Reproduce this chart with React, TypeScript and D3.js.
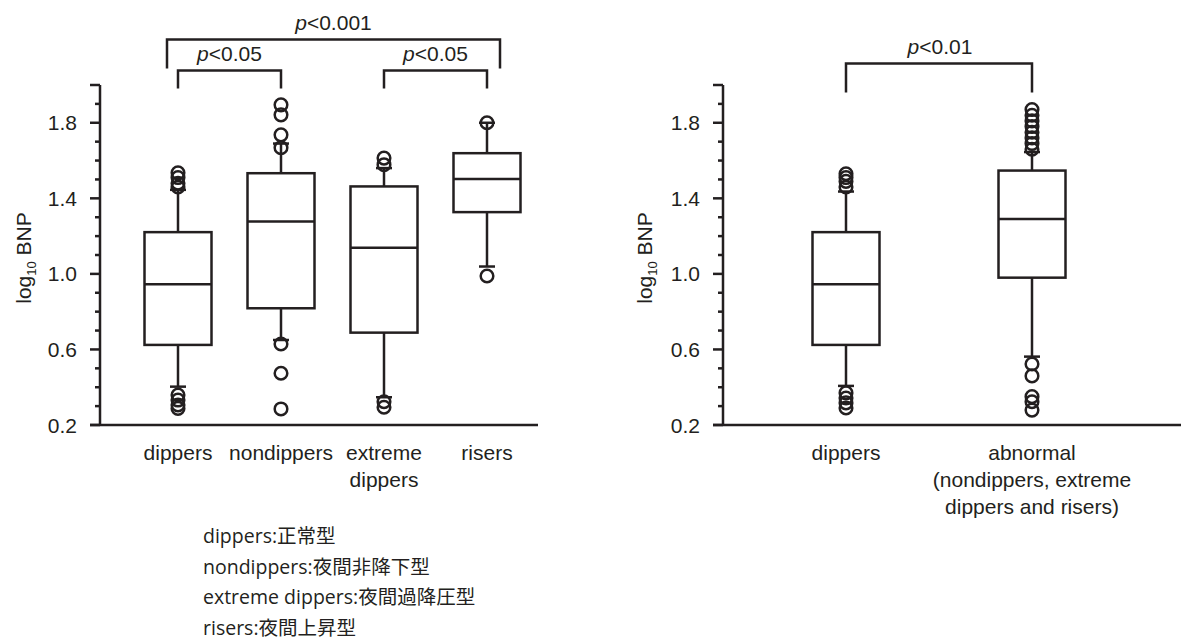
import React, { useEffect, useRef } from 'react';
import * as d3 from 'd3';

// left panel: four groups
const leftCategories = ['dippers', 'nondippers', 'extreme dippers', 'risers'];
const leftLabelLines = [['dippers'], ['nondippers'], ['extreme', 'dippers'], ['risers']];
const leftQ1 = [0.624, 0.818, 0.689, 1.327];
const leftMedian = [0.945, 1.277, 1.139, 1.502];
const leftQ3 = [1.221, 1.533, 1.463, 1.639];
const leftWhiskerLow = [0.403, 0.65, 0.347, 1.039];
const leftWhiskerHigh = [1.445, 1.69, 1.56, 1.8];
const leftOutliers = [
  [1.535, 1.51, 1.48, 1.46, 0.359, 0.332, 0.306, 0.288],
  [1.895, 1.842, 1.736, 1.668, 0.629, 0.474, 0.285],
  [1.613, 1.578, 0.323, 0.294],
  [1.8, 0.989],
];

// right panel: dippers vs abnormal
const rightCategories = ['dippers', 'abnormal'];
const rightLabelLines = [['dippers'], ['abnormal', '(nondippers, extreme', 'dippers and risers)']];
const rightQ1 = [0.624, 0.98];
const rightMedian = [0.945, 1.291];
const rightQ3 = [1.221, 1.547];
const rightWhiskerLow = [0.407, 0.562];
const rightWhiskerHigh = [1.436, 1.645];
const rightOutliers = [
  [1.53, 1.51, 1.49, 1.46, 0.37, 0.343, 0.317, 0.29],
  [1.87, 1.84, 1.81, 1.78, 1.75, 1.72, 1.69, 1.66, 0.523, 0.46, 0.35, 0.323, 0.279],
];

// y axis ticks
const majorTicks = [0.2, 0.6, 1.0, 1.4, 1.8, 2.0];
const tickLabels = [0.2, 0.6, 1.0, 1.4, 1.8];
const minorTicks = [0.3, 0.4, 0.5, 0.7, 0.8, 0.9, 1.1, 1.2, 1.3, 1.5, 1.6, 1.7, 1.9];

// significance brackets
const leftBrackets = [
  { from: 'dippers', to: 'nondippers', label: '<0.05', level: 1 },
  { from: 'extreme dippers', to: 'risers', label: '<0.05', level: 1 },
  { from: 'dippers', to: 'risers', label: '<0.001', level: 0 },
];
const rightBrackets = [{ from: 'dippers', to: 'abnormal', label: '<0.01', level: 0 }];

const footnotes = [
  'dippers:正常型',
  'nondippers:夜間非降下型',
  'extreme dippers:夜間過降圧型',
  'risers:夜間上昇型',
];

const INK = '#231f20';
const FONT = '"Liberation Sans", Arial, Helvetica, sans-serif';

const App = () => {
  const ref = useRef<SVGSVGElement>(null);

  useEffect(() => {
    if (!ref.current) return;
    const svg = d3.select(ref.current);
    svg.selectAll('*').remove();

    const y = d3.scaleLinear().domain([0.2, 2.0]).range([425, 85]);

    const drawPanel = (opts: any) => {
      const { axisX, axisEnd, x, cats, labels, q1, med, q3, wl, wh, outs, brackets, ylabelX } = opts;
      const g = svg.append('g');
      const boxW = 67;

      // y axis
      g.append('line').attr('x1', axisX).attr('x2', axisX).attr('y1', y(2.0)).attr('y2', y(0.2))
        .attr('stroke', INK).attr('stroke-width', 2.5);
      g.selectAll('.maj').data(majorTicks).enter().append('line')
        .attr('x1', axisX - 10).attr('x2', axisX).attr('y1', d => y(d)).attr('y2', d => y(d))
        .attr('stroke', INK).attr('stroke-width', 2.5);
      g.selectAll('.min').data(minorTicks).enter().append('line')
        .attr('x1', axisX - 5).attr('x2', axisX).attr('y1', d => y(d)).attr('y2', d => y(d))
        .attr('stroke', INK).attr('stroke-width', 2.5);
      g.selectAll('.tl').data(tickLabels).enter().append('text')
        .attr('x', axisX - 23).attr('y', d => y(d)).attr('dy', '0.36em')
        .attr('text-anchor', 'end').attr('font-size', 21).attr('font-family', FONT).attr('fill', INK)
        .text(d => d3.format('.1f')(d));

      // x axis
      g.append('line').attr('x1', axisX - 10).attr('x2', axisEnd).attr('y1', y(0.2)).attr('y2', y(0.2))
        .attr('stroke', INK).attr('stroke-width', 2.5);

      // y label
      const yl = g.append('text')
        .attr('transform', `translate(${ylabelX},258) rotate(-90)`)
        .attr('text-anchor', 'middle').attr('font-size', 21).attr('font-family', FONT).attr('fill', INK);
      yl.append('tspan').text('log');
      yl.append('tspan').attr('font-size', 13).attr('dy', 5).text('10');
      yl.append('tspan').attr('dy', -5).text(' BNP');

      // boxes
      cats.forEach((c: string, i: number) => {
        const cx = x(c);
        const s = g.append('g').attr('stroke', INK).attr('stroke-width', 2.5).attr('fill', 'none');
        s.append('line').attr('x1', cx).attr('x2', cx).attr('y1', y(q3[i])).attr('y2', y(wh[i]));
        s.append('line').attr('x1', cx).attr('x2', cx).attr('y1', y(q1[i])).attr('y2', y(wl[i]));
        s.append('line').attr('x1', cx - 8).attr('x2', cx + 8).attr('y1', y(wh[i])).attr('y2', y(wh[i]));
        s.append('line').attr('x1', cx - 8).attr('x2', cx + 8).attr('y1', y(wl[i])).attr('y2', y(wl[i]));
        s.append('rect').attr('x', cx - boxW / 2).attr('width', boxW)
          .attr('y', y(q3[i])).attr('height', y(q1[i]) - y(q3[i]));
        s.append('line').attr('x1', cx - boxW / 2).attr('x2', cx + boxW / 2)
          .attr('y1', y(med[i])).attr('y2', y(med[i]));
        s.selectAll('circle').data(outs[i]).enter().append('circle')
          .attr('cx', cx).attr('cy', (d: any) => y(d)).attr('r', 6.3);

        const t = g.append('text').attr('text-anchor', 'middle').attr('font-size', 21)
          .attr('font-family', FONT).attr('fill', INK);
        labels[i].forEach((ln: string, k: number) => {
          t.append('tspan').attr('x', cx).attr('y', 460 + k * 27).text(ln);
        });
      });

      // brackets
      brackets.forEach((b: any) => {
        const wide = b.level === 0 && cats.length > 2;
        const x1 = wide ? x(b.from) - 11 : x(b.from);
        const x2 = wide ? x(b.to) + 13 : x(b.to);
        const top = b.level === 0 ? (cats.length > 2 ? 39.5 : 63.5) : 70.5;
        const bottom = top + (wide ? 29 : cats.length > 2 ? 18 : 29);
        g.append('path')
          .attr('d', `M${x1},${bottom}V${top}H${x2}V${bottom}`)
          .attr('fill', 'none').attr('stroke', INK).attr('stroke-width', 2.5);
        const t = g.append('text').attr('x', (x1 + x2) / 2 + (cats.length > 2 ? 0 : 1)).attr('y', top - 10)
          .attr('text-anchor', 'middle').attr('font-size', 21).attr('font-family', FONT).attr('fill', INK);
        t.append('tspan').attr('font-style', 'italic').text('p');
        t.append('tspan').text(b.label);
      });
    };

    const xLeft = d3.scalePoint().domain(leftCategories).range([178, 487]);
    const xRight = d3.scalePoint().domain(rightCategories).range([846, 1032]);

    drawPanel({
      axisX: 100, axisEnd: 538, x: xLeft, cats: leftCategories, labels: leftLabelLines,
      q1: leftQ1, med: leftMedian, q3: leftQ3, wl: leftWhiskerLow, wh: leftWhiskerHigh,
      outs: leftOutliers, brackets: leftBrackets, ylabelX: 31,
    });
    drawPanel({
      axisX: 723, axisEnd: 1181, x: xRight, cats: rightCategories, labels: rightLabelLines,
      q1: rightQ1, med: rightMedian, q3: rightQ3, wl: rightWhiskerLow, wh: rightWhiskerHigh,
      outs: rightOutliers, brackets: rightBrackets, ylabelX: 652,
    });

    // footnote
    svg.append('g').selectAll('text').data(footnotes).enter().append('text')
      .attr('x', 203).attr('y', (d, i) => 543 + i * 30.5)
      .attr('font-size', 19.5).attr('font-family', '"Open Sans", "Noto Sans CJK JP", sans-serif')
      .attr('fill', INK).text(d => d);
  }, []);

  return (
    <svg ref={ref} width={1181} height={644}
      style={{ position: 'absolute', left: 0, top: 0, background: '#fff' }} />
  );
};

export default App;
